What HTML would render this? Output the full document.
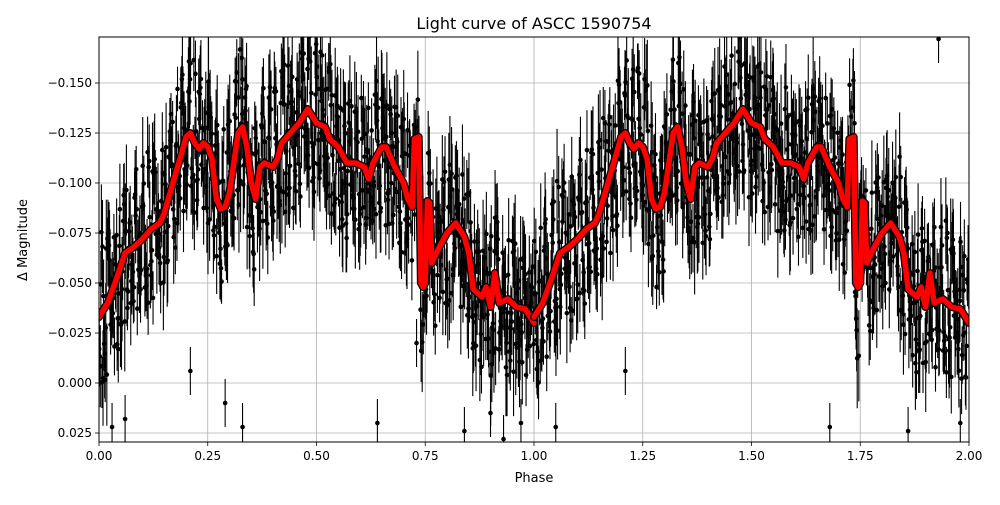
<!DOCTYPE html>
<html><head><meta charset="utf-8"><style>
body{margin:0;background:#fff;width:1000px;height:500px;overflow:hidden}
svg{font-family:"DejaVu Sans","Liberation Sans",sans-serif}
</style></head><body>
<svg id="chart" width="1000" height="500" xmlns="http://www.w3.org/2000/svg">
<text x="534" y="29" text-anchor="middle" font-size="16">Light curve of ASCC 1590754</text>
<text x="534" y="482" text-anchor="middle" font-size="13">Phase</text>
<text transform="translate(27,240) rotate(-90)" text-anchor="middle" font-size="13">Δ Magnitude</text>
<g id="grid"></g><g id="pts"></g><g id="curve"></g><g id="axes"></g>
</svg>
<script>
const xTicks=[0,0.25,0.5,0.75,1,1.25,1.5,1.75,2];
const xTickLabels=["0.00","0.25","0.50","0.75","1.00","1.25","1.50","1.75","2.00"];
const yTicks=[-0.15,-0.125,-0.1,-0.075,-0.05,-0.025,0,0.025];
const yTickLabels=["\u22120.150","\u22120.125","\u22120.100","\u22120.075","\u22120.050","\u22120.025","0.000","0.025"];
const curvePhase=[0,0.02,0.04,0.06,0.08,0.10,0.12,0.14,0.15,0.17,0.19,0.20,0.21,0.22,0.23,0.24,0.25,0.26,0.27,0.28,0.29,0.30,0.31,0.32,0.33,0.34,0.35,0.36,0.37,0.38,0.40,0.41,0.42,0.44,0.46,0.48,0.50,0.52,0.53,0.55,0.57,0.59,0.61,0.62,0.63,0.65,0.66,0.68,0.70,0.71,0.72,0.725,0.735,0.74,0.745,0.75,0.755,0.76,0.765,0.78,0.80,0.82,0.84,0.85,0.86,0.88,0.89,0.90,0.91,0.92,0.94,0.96,0.98,1.00];
const curveMag=[-0.033,-0.040,-0.052,-0.065,-0.068,-0.072,-0.077,-0.080,-0.085,-0.100,-0.115,-0.123,-0.125,-0.120,-0.117,-0.120,-0.118,-0.112,-0.092,-0.087,-0.088,-0.095,-0.110,-0.125,-0.128,-0.118,-0.100,-0.092,-0.108,-0.110,-0.108,-0.112,-0.120,-0.125,-0.130,-0.137,-0.130,-0.128,-0.122,-0.118,-0.110,-0.110,-0.108,-0.102,-0.110,-0.118,-0.118,-0.108,-0.100,-0.092,-0.088,-0.122,-0.123,-0.050,-0.048,-0.050,-0.091,-0.090,-0.060,-0.067,-0.075,-0.080,-0.073,-0.065,-0.047,-0.043,-0.048,-0.038,-0.055,-0.040,-0.042,-0.038,-0.037,-0.030];
const scatterDev=[12,-18,5,-25,20,-8,15,-30,3,22,-14,9,-21,17,-5,28,-11,6,-19,13,
-26,8,19,-3,-15,24,-9,11,-22,4,16,-28,7,-12,21,-6,25,-17,10,-2,
18,-24,1,14,-10,27,-20,9,-13,23,-7,3,-29,15,-4,19,-16,12,-23,6,
26,-9,-18,8,20,-1,-27,13,5,-15,22,-11,17,-6,-21,10,29,-14,2,-19,
14,-25,7,18,-8,-3,24,-16,11,-20,4,21,-12,16,-26,9,-5,23,-10,1,
-17,27,-7,13,-22,6,19,-13,-2,25,-18,8,15,-24,3,20,-9,-15,12,-28,
17,5,-11,22,-4,-19,10,26,-14,7,-23,14,-1,18,-20,9,24,-8,-16,11,
-27,2,21,-12,15,-6,-25,19,4,-17,28,-10,8,-21,13,-3,23,-15,6,-11,
20,-26,16,-7,1,-18,25,-9,12,-22,5,17,-13,27,-4,-20,10,-16,21,-2,
-24,14,3,-19,26,-8,11,-14,18,-5,-23,9,22,-12,7,-28,15,-1,19,-10];
const outlierPhase=[0.03,0.06,0.21,0.29,0.33,0.64,0.73,0.84,0.90,0.93,0.97,1.05,1.21,1.68,1.86,1.93,1.98];
const outlierMag=[0.022,0.018,-0.006,0.010,0.022,0.020,-0.020,0.024,0.015,0.028,0.020,0.022,-0.006,0.022,0.024,-0.172,0.020];
const X0=99,X1=969,Y0=37,Y1=442,xmin=0,xmax=2,ymin=-0.173,ymax=0.0295;
const sx=v=>X0+(v-xmin)/(xmax-xmin)*(X1-X0);
const sy=v=>Y0+(v-ymin)/(ymax-ymin)*(Y1-Y0);
const NS="http://www.w3.org/2000/svg";
function mk(p,t,a){const e=document.createElementNS(NS,t);for(const k in a)e.setAttribute(k,a[k]);p.appendChild(e);return e;}
const grid=document.getElementById('grid'),axes=document.getElementById('axes'),pts=document.getElementById('pts'),cg=document.getElementById('curve');
xTicks.forEach((t,i)=>{const x=sx(t);
 const g=mk(grid,'line',{x1:x,x2:x,y1:Y0,y2:Y1,stroke:'#b0b0b0','stroke-width':0.8});
 
 
 mk(axes,'line',{x1:x,x2:x,y1:Y1,y2:Y1+4,stroke:'#000','stroke-width':0.8});
 const l=mk(axes,'text',{x:x,y:Y1+18,'text-anchor':'middle','font-size':12});l.textContent=xTickLabels[i];
 
 
});
yTicks.forEach((t,i)=>{const y=sy(t);
 const g=mk(grid,'line',{x1:X0,x2:X1,y1:y,y2:y,stroke:'#b0b0b0','stroke-width':0.8});
 
 
 mk(axes,'line',{x1:X0-4,x2:X0,y1:y,y2:y,stroke:'#000','stroke-width':0.8});
 const l=mk(axes,'text',{x:X0-7,y:y+4,'text-anchor':'end','font-size':12});l.textContent=yTickLabels[i];
 
 
});
const frame=mk(axes,'rect',{x:X0,y:Y0,width:X1-X0,height:Y1-Y0,fill:'none',stroke:'#000','stroke-width':1});


function interp(p){for(let i=1;i<curvePhase.length;i++){if(p<=curvePhase[i]){const a=curvePhase[i-1],b=curvePhase[i];const f=(p-a)/(b-a);return curveMag[i-1]+f*(curveMag[i]-curveMag[i-1]);}}return curveMag[curveMag.length-1];}
mk(pts,'clipPath',{id:'clip'}).appendChild(document.createElementNS(NS,'rect'));
const cr=pts.querySelector('clipPath rect');cr.setAttribute('x',X0);cr.setAttribute('y',Y0);cr.setAttribute('width',X1-X0);cr.setAttribute('height',Y1-Y0);
pts.setAttribute('clip-path','url(#clip)');cg.setAttribute('clip-path','url(#clip)');
const n=scatterDev.length;
function addPoint(ph,m,err){const x=sx(ph),y=sy(m);
 const e=mk(pts,'line',{x1:x,x2:x,y1:sy(m-err),y2:sy(m+err),stroke:'#000','stroke-width':1.1});
 
 
 const d=mk(pts,'circle',{cx:x,cy:y,r:2.3,fill:'#000'});
 
 
}
for(let c=0;c<2;c++){for(let k=0;k<4;k++){for(let i=0;i<n;i++){
 const ph=(i+0.25*k+0.1)/n;const dev=1.35*scatterDev[(i*7+k*53+c*31)%n]/1000;
 const m=interp(ph)+dev;const err=0.010+Math.abs(scatterDev[(i*3+k*11)%n])/1800;
 addPoint(ph+c,m,err);
}}}
outlierPhase.forEach((p,i)=>addPoint(p,outlierMag[i],0.012));
for(let c=0;c<2;c++){let dd='';curvePhase.forEach((p,i)=>{dd+=(i?'L':'M')+sx(p+c).toFixed(1)+','+sy(curveMag[i]).toFixed(1);});
 const pth=mk(cg,'path',{d:dd,fill:'none',stroke:'#000','stroke-width':8,'stroke-linejoin':'round','stroke-linecap':'round'});
 
 
 const p2=mk(cg,'path',{d:dd,fill:'none',stroke:'#ff0000','stroke-width':5.5,'stroke-linejoin':'round','stroke-linecap':'round'});
 
 
}
</script>
</body></html>
